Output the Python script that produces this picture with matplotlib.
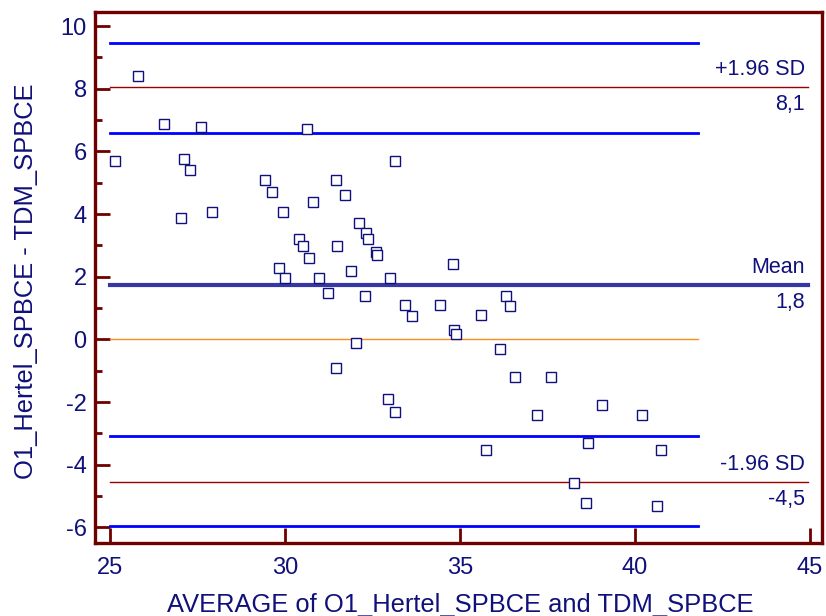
import matplotlib.pyplot as plt
from matplotlib.ticker import MultipleLocator

plt.rcParams['font.family'] = ['Liberation Sans', 'DejaVu Sans']
plt.rcParams['axes.unicode_minus'] = False

# Bland-Altman points (average, difference)
avg = [25.8, 26.53, 27.59, 30.64, 25.15, 27.1, 27.28, 33.15, 29.44, 31.45,
       29.63, 31.7, 30.8, 27.04, 27.92, 29.93, 32.12, 32.3, 32.37, 30.4,
       30.5, 31.48, 32.59, 32.62, 30.68, 29.84, 31.89, 34.79, 30.0, 30.98,
       32.99, 31.23, 32.28, 33.43, 34.44, 33.64, 32.03, 31.45, 32.93, 33.15,
       36.3, 36.42, 35.59, 34.84, 34.88, 36.14, 36.58, 37.59, 39.05, 37.19,
       40.19, 35.74, 38.65, 40.75, 38.27, 38.59, 40.62]
diff = [8.4, 6.89, 6.78, 6.71, 5.71, 5.77, 5.4, 5.71, 5.08, 5.08,
        4.71, 4.6, 4.4, 3.88, 4.08, 4.08, 3.7, 3.39, 3.19, 3.19,
        2.97, 2.97, 2.8, 2.69, 2.6, 2.29, 2.18, 2.4, 1.97, 1.97,
        1.97, 1.49, 1.4, 1.09, 1.09, 0.75, -0.1, -0.9, -1.9, -2.31,
        1.38, 1.07, 0.79, 0.3, 0.18, -0.3, -1.2, -1.2, -2.11, -2.42,
        -2.42, -3.52, -3.31, -3.52, -4.6, -5.22, -5.32]

mean_diff = 1.75
upper_loa = 8.07
lower_loa = -4.54
upper_ci = [6.6, 9.45]
lower_ci = [-5.95, -3.1]
line_end = 41.8
label_x = 44.85

navy = '#10107a'
spine_col = '#6e0000'

fig = plt.figure(figsize=(8.26, 6.16), dpi=100)
ax = fig.add_axes([0.115, 0.1185, 0.88, 0.862])

for y in upper_ci + lower_ci:
    ax.plot([25, line_end], [y, y], color='#0000ff', lw=2.0, zorder=2)
ax.plot([25, line_end], [0, 0], color='#ff8c1a', lw=1.0, zorder=2)
ax.plot([25, label_x + 0.1], [mean_diff, mean_diff], color='#3636a6', lw=3.0, zorder=2)
ax.plot([25, label_x + 0.1], [upper_loa, upper_loa], color='#990000', lw=1.0, zorder=2)
ax.plot([25, label_x + 0.1], [lower_loa, lower_loa], color='#990000', lw=1.0, zorder=2)

ax.plot(avg, diff, 's', ms=7.3, mfc='white', mec=navy, mew=1.0, ls='none', zorder=3)

def tag(y, top, bottom):
    ax.annotate(top, (label_x, y), xytext=(0, 5), textcoords='offset points',
                ha='right', va='bottom', fontsize=15.5, color=navy)
    ax.annotate(bottom, (label_x, y), xytext=(0, -5), textcoords='offset points',
                ha='right', va='top', fontsize=15.5, color=navy)

tag(upper_loa, '+1.96 SD', '8,1')
tag(mean_diff, 'Mean', '1,8')
tag(lower_loa, '-1.96 SD', '-4,5')

ax.set_xlim(24.57, 45.34)
ax.set_ylim(-6.5, 10.45)
ax.set_xticks([25, 30, 35, 40, 45])
ax.set_yticks(range(-6, 11, 2))
ax.yaxis.set_minor_locator(MultipleLocator(1))

for s in ax.spines.values():
    s.set_color(spine_col)
    s.set_linewidth(2.4)
ax.tick_params(which='both', direction='in', color=spine_col, width=2.0,
               labelcolor=navy, labelsize=17, top=False, right=False)
ax.tick_params(which='major', length=11)
ax.tick_params(axis='x', which='major', pad=10)
ax.tick_params(axis='y', which='major', pad=6)
ax.tick_params(which='minor', length=5)

ax.set_xlabel('AVERAGE of O1_Hertel_SPBCE and TDM_SPBCE', fontsize=18.4, color=navy)
ax.set_ylabel('O1_Hertel_SPBCE - TDM_SPBCE', fontsize=18.4, color=navy)
ax.xaxis.set_label_coords(0.502, -0.094)
ax.yaxis.set_label_coords(-0.078, 0.493)

plt.savefig('out.png', dpi=100)
